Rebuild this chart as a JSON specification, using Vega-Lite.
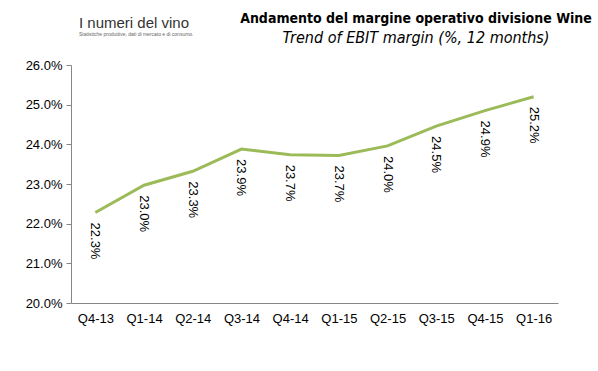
{
  "$schema": "https://vega.github.io/schema/vega-lite/v6.json",
  "padding": {"left": 25, "top": 11, "right": 5, "bottom": 5},
  "background": "white",
  "config": {"view": {"stroke": null}, "font": "Liberation Sans"},
  "spacing": -2,
  "vconcat": [
    {
      "spacing": 9,
      "hconcat": [
        {
          "width": 160, "height": 1,
          "data": {"values": [{}]},
          "mark": {"type": "text"},
          "encoding": {},
          "title": {
            "text": "I numeri del vino",
            "subtitle": "Statistiche produttive, dati di mercato e di consumo.",
            "anchor": "start", "dx": 8, "offset": 13,
            "font": "Liberation Sans", "fontSize": 15, "fontWeight": "normal", "color": "#333333",
            "subtitleFont": "Liberation Sans", "subtitleFontSize": 5, "subtitleColor": "#666666", "subtitlePadding": 1
          }
        },
        {
          "width": 324, "height": 1,
          "data": {"values": [{}]},
          "mark": {"type": "text"},
          "encoding": {},
          "title": {
            "text": "Andamento del margine operativo divisione Wine",
            "subtitle": "Trend of EBIT margin (%, 12 months)",
            "anchor": "middle",
            "font": "DejaVu Sans Condensed", "fontSize": 14, "fontWeight": "bold", "color": "black",
            "subtitleFont": "DejaVu Sans Condensed", "subtitleFontSize": 16, "subtitleFontStyle": "italic", "subtitleColor": "black", "subtitlePadding": 4
          }
        }
      ]
    },
    {
      "width": 487, "height": 238,
      "data": {"values": [
        {"quarter": "Q4-13", "margin": 0.2228},
        {"quarter": "Q1-14", "margin": 0.2297},
        {"quarter": "Q2-14", "margin": 0.2332},
        {"quarter": "Q3-14", "margin": 0.2388},
        {"quarter": "Q4-14", "margin": 0.2374},
        {"quarter": "Q1-15", "margin": 0.2372},
        {"quarter": "Q2-15", "margin": 0.2396},
        {"quarter": "Q3-15", "margin": 0.2446},
        {"quarter": "Q4-15", "margin": 0.2485},
        {"quarter": "Q1-16", "margin": 0.2520}
      ]},
      "encoding": {
        "x": {"field": "quarter", "type": "ordinal", "sort": null,
          "scale": {"type": "point", "padding": 0.5},
          "axis": {"title": null, "labelAngle": 0, "ticks": false, "domainColor": "#868686", "labelFontSize": 13, "labelPadding": 9, "labelColor": "black"}},
        "y": {"field": "margin", "type": "quantitative",
          "scale": {"domain": [0.20, 0.26], "nice": false, "zero": false},
          "axis": {"title": null, "values": [0.20, 0.21, 0.22, 0.23, 0.24, 0.25, 0.26], "format": ".1%", "grid": false,
            "domainColor": "#868686", "tickColor": "#868686", "tickSize": 5, "labelFontSize": 13, "labelPadding": 4, "labelColor": "black"}}
      },
      "layer": [
        {"mark": {"type": "line", "color": "#9BBB59", "strokeWidth": 3}},
        {"mark": {"type": "text", "angle": 90, "align": "left", "baseline": "middle", "dx": 10, "fontSize": 13, "color": "black"},
         "encoding": {"text": {"field": "margin", "type": "quantitative", "format": ".1%"}}}
      ]
    }
  ]
}
